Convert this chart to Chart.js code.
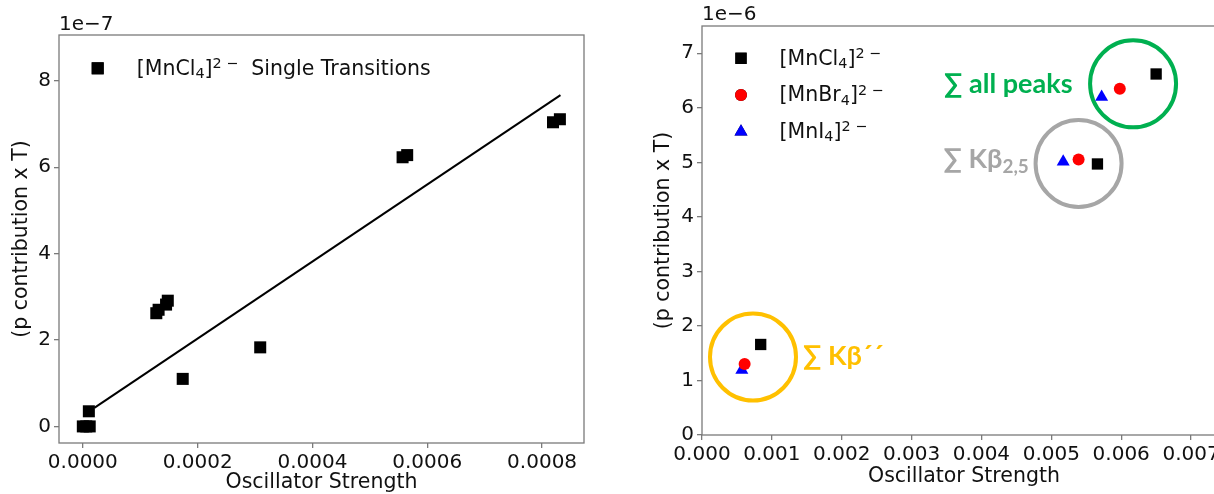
<!DOCTYPE html>
<html>
<head>
<meta charset="utf-8">
<script src="https://cdn.jsdelivr.net/npm/chart.js@4.4.0/dist/chart.umd.min.js"></script>
<style>
  html, body { margin: 0; padding: 0; background: #fff; overflow: hidden; }
  body { width: 1214px; height: 494px; position: relative; }
  .panel { position: absolute; top: 0; }
  #leftPanel { left: 0; }
  #rightPanel { left: 600px; }
</style>
</head>
<body>
<div class="panel" id="leftPanel"><canvas id="singleChart" width="600" height="494"></canvas></div>
<div class="panel" id="rightPanel"><canvas id="sumChart" width="660" height="494"></canvas></div>
<script>
// left panel: single transitions of [MnCl4]2-, y in units of 1e-7
const singleX = [0.0, 0.000006, 0.000012, 0.0000105, 0.000128, 0.000132, 0.000145, 0.000148, 0.000174, 0.000309, 0.000557, 0.000565, 0.000819, 0.000831];
const singleY = [0.0, 0.0, 0.0, 0.35, 2.62, 2.70, 2.82, 2.91, 1.10, 1.83, 6.23, 6.28, 7.04, 7.11];
const fitX = [0.00002, 0.000832];
const fitY = [0.43, 7.67];
const singleXTicks = [0, 0.0002, 0.0004, 0.0006, 0.0008];
const singleXLabels = ['0.0000', '0.0002', '0.0004', '0.0006', '0.0008'];
const singleYTicks = [0, 2, 4, 6, 8];
const singleYLabels = ['0', '2', '4', '6', '8'];

// right panel: summed peaks, y in units of 1e-6
// order of points: sum Kb'', sum Kb2,5, sum all peaks
const clX = [0.00084, 0.00566, 0.0065];
const clY = [1.66, 4.97, 6.62];
const brX = [0.00061, 0.00539, 0.00598];
const brY = [1.30, 5.05, 6.35];
const iX = [0.00057, 0.00517, 0.00572];
const iY = [1.19, 5.01, 6.20];
const sumXTicks = [0, 0.001, 0.002, 0.003, 0.004, 0.005, 0.006, 0.007];
const sumXLabels = ['0.000', '0.001', '0.002', '0.003', '0.004', '0.005', '0.006', '0.007'];
const sumYTicks = [0, 1, 2, 3, 4, 5, 6, 7];
const sumYLabels = ['0', '1', '2', '3', '4', '5', '6', '7'];

// rings drawn round each group (centre in data units)
const ringX = [0.00073, 0.00539, 0.00617];
const ringY = [1.43, 4.98, 6.44];
const ringColors = ['#FFC000', '#A6A6A6', '#00B050'];

const AXIS = '#7a7a7a';
const TXT = '#111';
const FONT = "'DejaVu Sans', sans-serif";

const pts = (xs, ys) => xs.map((x, i) => ({ x: x, y: ys[i] }));

function richText(ctx, x, y, parts, size, family, weight) {
    let cx = x;
    for (const [t, kind] of parts) {
        const s = kind === 'n' ? size : size * 0.7;
        const dy = kind === 'sub' ? size * 0.17 : kind === 'sup' ? -size * 0.32 : 0;
        ctx.font = `${weight || 'normal'} ${s}px ${family}`;
        ctx.fillText(t, cx, y + dy);
        cx += ctx.measureText(t).width;
    }
    return cx;
}

function axisOpts(min, max, ticks, labels, size, title, titlePad, titleLH) {
    return {
        type: 'linear', min: min, max: max,
        afterBuildTicks: s => { s.ticks = ticks.map(v => ({ value: v })); },
        afterFit: s => { if (s.isHorizontal()) s.height = size; else s.width = size; },
        ticks: {
            callback: (v, i) => labels[i],
            color: TXT, font: { family: FONT, size: 20 }, padding: 3, maxRotation: 0, autoSkip: false
        },
        grid: { drawOnChartArea: false, drawTicks: true, tickLength: 5, color: AXIS, lineWidth: 1.3 },
        border: { display: false },
        title: { display: true, text: title, color: TXT, font: { family: FONT, size: 20.5, lineHeight: titleLH }, padding: titlePad }
    };
}

const frame = {
    id: 'frame',
    afterDraw(chart, args, opts) {
        const { ctx, chartArea: a } = chart;
        ctx.save();
        ctx.strokeStyle = AXIS;
        ctx.lineWidth = 1.3;
        ctx.strokeRect(a.left, a.top, a.right - a.left, a.bottom - a.top);
        ctx.fillStyle = TXT;
        ctx.textBaseline = 'middle';
        ctx.font = `20px ${FONT}`;
        ctx.fillText(opts.offsetText, a.left, opts.offsetY);
        // legend
        ctx.textBaseline = 'alphabetic';
        opts.legend.forEach((item, k) => {
            const y = opts.legendY + k * opts.legendStep;
            Chart.helpers.drawPoint(ctx, { pointStyle: item.style, radius: item.radius, rotation: 0, borderWidth: 0 }, opts.markerX, y);
            ctx.fillStyle = item.color;
            ctx.fill();
            ctx.fillStyle = TXT;
            richText(ctx, opts.textX, y + 6.2, item.parts, 20.5, FONT);
        });
        ctx.restore();
    }
};

const rings = {
    id: 'rings',
    beforeDatasetsDraw(chart) {
        const { ctx, scales: { x, y } } = chart;
        ctx.save();
        ringX.forEach((rx, k) => {
            const cx = x.getPixelForValue(rx), cy = y.getPixelForValue(ringY[k]);
            ctx.beginPath();
            ctx.ellipse(cx, cy, 43, 43.5, 0, 0, Math.PI * 2);
            ctx.strokeStyle = ringColors[k];
            ctx.lineWidth = 4;
            ctx.stroke();
        });
        // group labels
        const fam = "'Lato', 'DejaVu Sans', sans-serif";
        ctx.textBaseline = 'alphabetic';
        const g0x = x.getPixelForValue(ringX[0]), g0y = y.getPixelForValue(ringY[0]);
        ctx.fillStyle = ringColors[0];
        richText(ctx, g0x + 50, g0y + 8, [['\u2211 K\u03B2\u00B4\u00B4', 'n']], 27, fam, 'bold');
        const g1x = x.getPixelForValue(ringX[1]), g1y = y.getPixelForValue(ringY[1]);
        ctx.fillStyle = ringColors[1];
        richText(ctx, g1x - 135, g1y + 5, [['\u2211 K\u03B2', 'n'], ['2,5', 'sub']], 27, fam, 'bold');
        const g2x = x.getPixelForValue(ringX[2]), g2y = y.getPixelForValue(ringY[2]);
        ctx.fillStyle = ringColors[2];
        richText(ctx, g2x - 189, g2y + 9, [['\u2211 all peaks', 'n']], 27, fam, 'bold');
        ctx.restore();
    }
};

const common = {
    responsive: false,
    animation: false,
    events: []
};

new Chart(document.getElementById('singleChart'), {
    type: 'scatter',
    data: {
        datasets: [
            {
                label: 'single',
                data: pts(singleX, singleY),
                pointStyle: 'rect', pointRadius: 8.5, backgroundColor: '#000', borderWidth: 0
            },
            {
                label: 'fit',
                data: pts(fitX, fitY),
                showLine: true, pointRadius: 0, borderColor: '#000', borderWidth: 2
            }
        ]
    },
    options: {
        ...common,
        layout: { padding: { top: 35, right: 16, left: 0, bottom: 0 } },
        scales: {
            x: axisOpts(-0.0000415, 0.000873, singleXTicks, singleXLabels, 51, 'Oscillator Strength', 0, 1.1),
            y: axisOpts(-0.384, 9.06, singleYTicks, singleYLabels, 59, '(p contribution x T)', { top: 9 }, 1.2)
        },
        plugins: {
            legend: { display: false },
            tooltip: { enabled: false },
            frame: {
                offsetText: '1e\u22127', offsetY: 25,
                markerX: 97.7, textX: 136.7, legendY: 68.3, legendStep: 0,
                legend: [{ style: 'rect', radius: 8.5, color: '#000',
                    parts: [['[MnCl', 'n'], ['4', 'sub'], [']', 'n'], ['2 \u2212', 'sup'], ['  Single Transitions', 'n']] }]
            }
        }
    },
    plugins: [frame]
});

new Chart(document.getElementById('sumChart'), {
    type: 'scatter',
    data: {
        datasets: [
            { label: 'MnCl4', data: pts(clX, clY), pointStyle: 'rect', pointRadius: 8, backgroundColor: '#000', borderWidth: 0 },
            { label: 'MnBr4', data: pts(brX, brY), pointStyle: 'circle', pointRadius: 6, backgroundColor: '#ff0000', borderWidth: 0 },
            { label: 'MnI4', data: pts(iX, iY), pointStyle: 'triangle', pointRadius: 7.5, backgroundColor: '#0000ff', borderWidth: 0 }
        ]
    },
    options: {
        ...common,
        layout: { padding: { top: 26, right: 34, left: 0, bottom: 0 } },
        scales: {
            x: axisOpts(0, 0.0075, sumXTicks, sumXLabels, 59, 'Oscillator Strength', { bottom: 5 }, 1.2),
            y: axisOpts(0, 7.5, sumYTicks, sumYLabels, 102, '(p contribution x T)', { top: 51 }, 1.2)
        },
        plugins: {
            legend: { display: false },
            tooltip: { enabled: false },
            frame: {
                offsetText: '1e\u22126', offsetY: 15,
                markerX: 141, textX: 179.6, legendY: 58.3, legendStep: 36.7,
                legend: [
                    { style: 'rect', radius: 8, color: '#000', parts: [['[MnCl', 'n'], ['4', 'sub'], [']', 'n'], ['2 \u2212', 'sup']] },
                    { style: 'circle', radius: 6, color: '#ff0000', parts: [['[MnBr', 'n'], ['4', 'sub'], [']', 'n'], ['2 \u2212', 'sup']] },
                    { style: 'triangle', radius: 7.5, color: '#0000ff', parts: [['[MnI', 'n'], ['4', 'sub'], [']', 'n'], ['2 \u2212', 'sup']] }
                ]
            }
        }
    },
    plugins: [rings, frame]
});
</script>
</body>
</html>
